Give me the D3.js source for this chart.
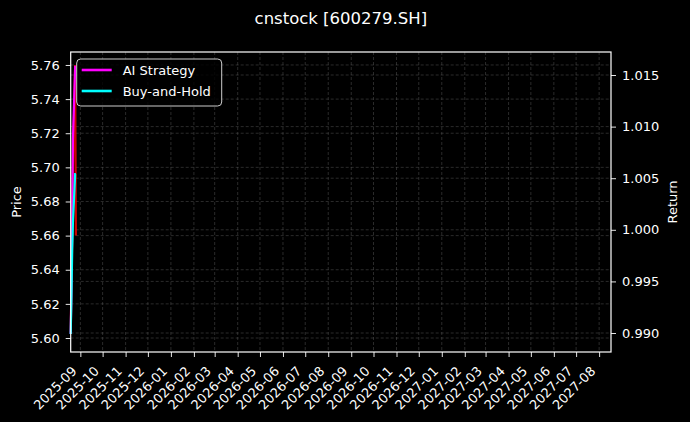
<!DOCTYPE html>
<html>
<head>
<meta charset="utf-8">
<script src="https://cdn.jsdelivr.net/npm/d3@7"></script>
<style>
  body { margin: 0; background: #000; }
  svg { display: block; }
  text { font-family: "DejaVu Sans", sans-serif; fill: #fff; }
</style>
</head>
<body>
<div id="vis"></div>
<script>
// frame and plot area dimensions
const FRAME_WIDTH = 690;
const FRAME_HEIGHT = 422;
const MARGINS = {left: 70.7, right: 79, top: 52, bottom: 70};
const VIS_WIDTH = FRAME_WIDTH - MARGINS.left - MARGINS.right;
const VIS_HEIGHT = FRAME_HEIGHT - MARGINS.top - MARGINS.bottom;

// data
const dates = ["2025-08-19", "2025-08-20", "2025-08-21", "2025-08-22", "2025-08-25", "2025-08-26"];
const price = [5.603, 5.630, 5.655, 5.700, 5.760, 5.660];
const aiStrategy = [0.9899, 0.9945, 1.0005, 1.0087, 1.0158, 1.0158];
const buyAndHold = [0.9899, 0.9935, 0.9980, 1.0007, 1.0054, 1.0054];

// axis ranges and ticks
const xRange = ["2025-08-19", "2027-08-17"];
const priceDomain = [5.5918, 5.7676];
const returnDomain = [0.98816, 1.01723];
const priceTicks = [5.60, 5.62, 5.64, 5.66, 5.68, 5.70, 5.72, 5.74, 5.76];
const returnTicks = [0.990, 0.995, 1.000, 1.005, 1.010, 1.015];
const legendLabels = ["AI Strategy", "Buy-and-Hold"];
const legendColors = ["magenta", "cyan"];

const parse = d3.timeParse("%Y-%m-%d");

const FRAME = d3.select("#vis")
  .append("svg")
    .attr("width", FRAME_WIDTH)
    .attr("height", FRAME_HEIGHT)
    .style("background", "#000");

const X_SCALE = d3.scaleTime()
  .domain(xRange.map(parse))
  .range([0, VIS_WIDTH]);
const Y_PRICE = d3.scaleLinear()
  .domain(priceDomain)
  .range([VIS_HEIGHT, 0]);
const Y_RETURN = d3.scaleLinear()
  .domain(returnDomain)
  .range([VIS_HEIGHT, 0]);

const monthTicks = d3.timeMonth.range(parse("2025-09-01"), parse("2027-08-02"));

const PLOT = FRAME.append("g")
  .attr("transform", "translate(" + MARGINS.left + "," + MARGINS.top + ")");

// grid lines (dashed, faint)
const GRID = PLOT.append("g")
  .attr("stroke", "#666")
  .attr("stroke-opacity", 0.7)
  .attr("stroke-width", 0.6)
  .attr("stroke-dasharray", "3,2");

GRID.selectAll(".vgrid")
  .data(monthTicks)
  .enter()
  .append("line")
    .attr("x1", (d) => X_SCALE(d))
    .attr("x2", (d) => X_SCALE(d))
    .attr("y1", 0)
    .attr("y2", VIS_HEIGHT);

GRID.selectAll(".pgrid")
  .data(priceTicks)
  .enter()
  .append("line")
    .attr("x1", 0)
    .attr("x2", VIS_WIDTH)
    .attr("y1", (d) => Y_PRICE(d))
    .attr("y2", (d) => Y_PRICE(d));

GRID.selectAll(".rgrid")
  .data(returnTicks)
  .enter()
  .append("line")
    .attr("x1", 0)
    .attr("x2", VIS_WIDTH)
    .attr("y1", (d) => Y_RETURN(d))
    .attr("y2", (d) => Y_RETURN(d));

// lines
const priceLine = d3.line()
  .x((d, i) => X_SCALE(parse(dates[i])))
  .y((d) => Y_PRICE(d));
const returnLine = d3.line()
  .x((d, i) => X_SCALE(parse(dates[i])))
  .y((d) => Y_RETURN(d));

PLOT.append("path")
  .datum(price)
  .attr("d", priceLine)
  .attr("fill", "none")
  .attr("stroke", "red")
  .attr("stroke-opacity", 0.8)
  .attr("stroke-width", 2.2);

PLOT.append("path")
  .datum(aiStrategy)
  .attr("d", returnLine)
  .attr("fill", "none")
  .attr("stroke", "magenta")
  .attr("stroke-width", 2.2);

PLOT.append("path")
  .datum(buyAndHold)
  .attr("d", returnLine)
  .attr("fill", "none")
  .attr("stroke", "cyan")
  .attr("stroke-width", 2.2);

// axes
const xAxis = PLOT.append("g")
  .attr("transform", "translate(0," + VIS_HEIGHT + ")")
  .call(d3.axisBottom(X_SCALE).tickValues(monthTicks).tickFormat(d3.timeFormat("%Y-%m")).tickSize(5).tickSizeOuter(0));
xAxis.selectAll("text")
  .attr("font-size", "13px")
  .attr("text-anchor", "end")
  .attr("dy", 0)
  .attr("y", 0)
  .attr("transform", "translate(-3.3,20) rotate(-45)");

const leftAxis = PLOT.append("g")
  .call(d3.axisLeft(Y_PRICE).tickValues(priceTicks).tickFormat(d3.format(".2f")).tickSize(5).tickPadding(6).tickSizeOuter(0));
leftAxis.selectAll("text").attr("font-size", "13px");

const rightAxis = PLOT.append("g")
  .attr("transform", "translate(" + VIS_WIDTH + ",0)")
  .call(d3.axisRight(Y_RETURN).tickValues(returnTicks).tickFormat(d3.format(".3f")).tickSize(5).tickPadding(6).tickSizeOuter(0));
rightAxis.selectAll("text").attr("font-size", "13px");

FRAME.selectAll(".domain").remove();
FRAME.selectAll(".tick line").attr("stroke", "#fff").attr("stroke-width", 0.9);
FRAME.selectAll(".tick text").attr("fill", "#fff").style("font-family", "DejaVu Sans");

// spines
PLOT.append("rect")
  .attr("x", 0)
  .attr("y", 0)
  .attr("width", VIS_WIDTH)
  .attr("height", VIS_HEIGHT)
  .attr("fill", "none")
  .attr("stroke", "#fff")
  .attr("stroke-width", 1.2);

// legend
const LEGEND = PLOT.append("g")
  .attr("transform", "translate(6,7)");
LEGEND.append("rect")
  .attr("width", 145)
  .attr("height", 47)
  .attr("rx", 4)
  .attr("fill", "#000")
  .attr("fill-opacity", 0.8)
  .attr("stroke", "#ccc")
  .attr("stroke-width", 1);
LEGEND.selectAll(".lline")
  .data(legendLabels)
  .enter()
  .append("line")
    .attr("x1", 5)
    .attr("x2", 35)
    .attr("y1", (d, i) => 11 + i * 21)
    .attr("y2", (d, i) => 11 + i * 21)
    .attr("stroke", (d, i) => legendColors[i])
    .attr("stroke-width", 2.6);
LEGEND.selectAll(".ltext")
  .data(legendLabels)
  .enter()
  .append("text")
    .attr("x", 46)
    .attr("y", (d, i) => 16 + i * 21)
    .attr("font-size", "13px")
    .text((d) => d);

// title and axis labels
FRAME.append("text")
  .attr("x", MARGINS.left + VIS_WIDTH / 2)
  .attr("y", 24)
  .attr("text-anchor", "middle")
  .attr("font-size", "16.5px")
  .text("cnstock [600279.SH]");

FRAME.append("text")
  .attr("transform", "translate(21," + (MARGINS.top + VIS_HEIGHT / 2) + ") rotate(-90)")
  .attr("text-anchor", "middle")
  .attr("font-size", "13px")
  .text("Price");

FRAME.append("text")
  .attr("transform", "translate(677," + (MARGINS.top + VIS_HEIGHT / 2) + ") rotate(-90)")
  .attr("text-anchor", "middle")
  .attr("font-size", "13px")
  .text("Return");
</script>
</body>
</html>
